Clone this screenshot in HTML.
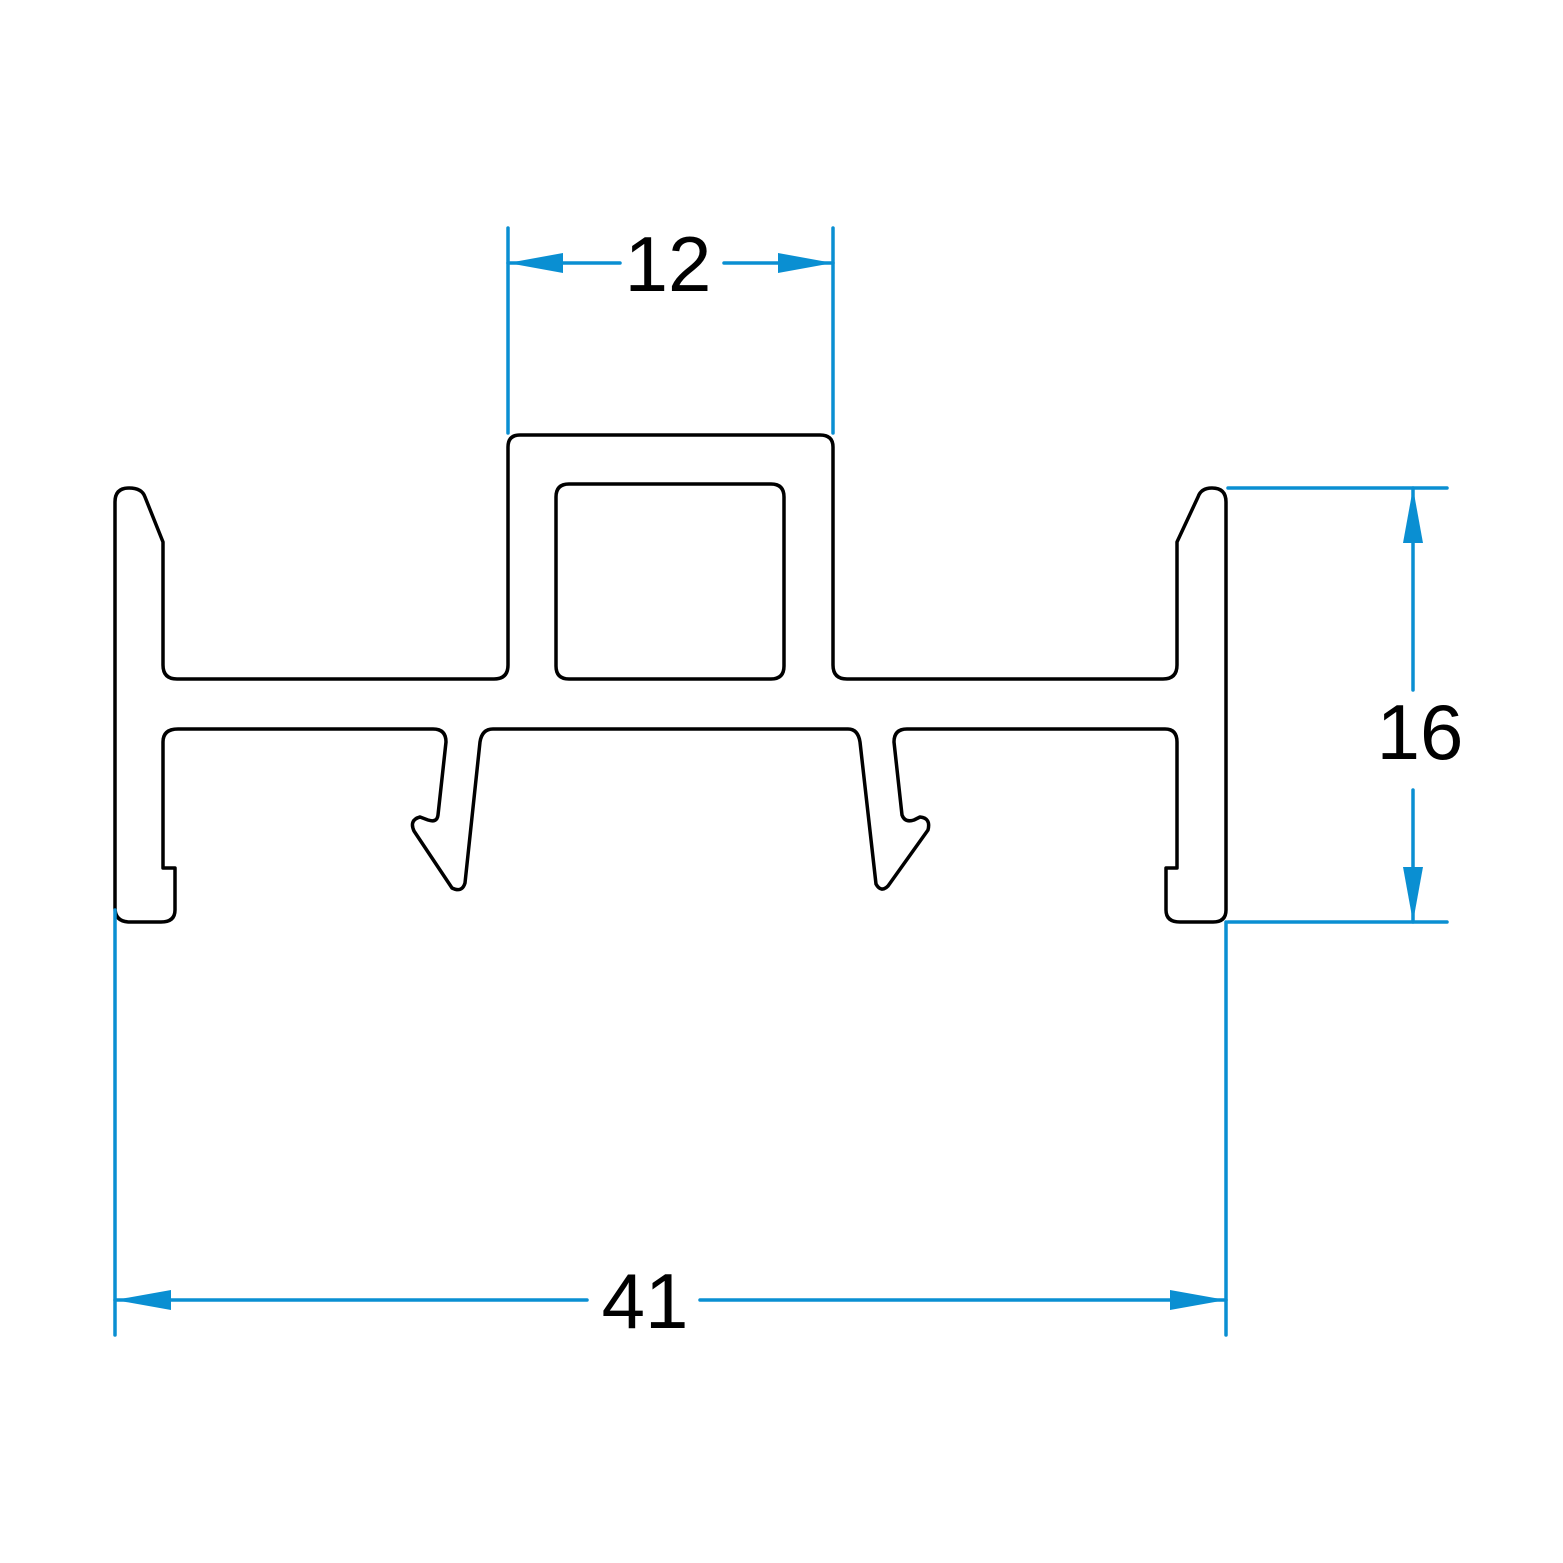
<!DOCTYPE html>
<html><head><meta charset="utf-8"><style>html,body{margin:0;padding:0;background:#fff}svg{display:block}</style></head>
<body>
<svg width="1563" height="1563" viewBox="0 0 1563 1563" xmlns="http://www.w3.org/2000/svg">
<g fill="none" stroke="#000" stroke-width="3.5" stroke-linejoin="round">
<path d="M115,502 Q115,488 129,488 Q142,488 145,497 L163,542 L163,665 Q163,679 177,679 L494,679 Q508,679 508,665 L508,447 Q508,435 520,435 L820,435 Q833,435 833,447 L833,665 Q833,679 847,679 L1163,679 Q1177,679 1177,665 L1177,542 L1198,497 Q1201,488 1212,488 Q1226,488 1226,502 L1226,910 Q1226,922 1213,922 L1180,922 Q1166,922 1166,910 L1166,868 L1177,868 L1177,742 Q1177,729 1165,729 L907,729 Q894,729 894,742 L902,815 Q905,823 914,820 L920,817 Q931,818 928,830 L888,886 Q881,893 876,884 L860,742 Q858,729 848,729 L493,729 Q482,729 480,742 L465,883 Q462,893 452,888 L414,831 Q409,820 420,817 L428,820 Q437,823 438,815 L446,742 Q446,729 433,729 L178,729 Q163,729 163,742 L163,868 L175,868 L175,910 Q175,922 161,922 L130,922 Q115,922 115,908 Z"/>
<path d="M569,484 L771,484 Q784,484 784,497 L784,666 Q784,679 771,679 L569,679 Q556,679 556,666 L556,497 Q556,484 569,484 Z"/>
</g>
<g stroke="#0a8fd2" stroke-width="3.5" fill="none" stroke-linecap="round">
<line x1="508" y1="228" x2="508" y2="433"/>
<line x1="833" y1="228" x2="833" y2="433"/>
<line x1="508" y1="263" x2="620" y2="263"/>
<line x1="724" y1="263" x2="833" y2="263"/>
<line x1="1228" y1="488" x2="1447" y2="488"/>
<line x1="1228" y1="922" x2="1447" y2="922"/>
<line x1="1413" y1="488" x2="1413" y2="690"/>
<line x1="1413" y1="790" x2="1413" y2="922"/>
<line x1="115" y1="910" x2="115" y2="1335"/>
<line x1="1226" y1="922" x2="1226" y2="1335"/>
<line x1="115" y1="1300" x2="587" y2="1300"/>
<line x1="700" y1="1300" x2="1226" y2="1300"/>
</g>
<g fill="#0a8fd2">
<polygon points="508,263 563,253 563,273"/>
<polygon points="833,263 778,253 778,273"/>
<polygon points="1413,488 1403,543 1423,543"/>
<polygon points="1413,922 1403,867 1423,867"/>
<polygon points="115,1300 171,1290 171,1310"/>
<polygon points="1226,1300 1170,1290 1170,1310"/>
</g>
<g font-family="Liberation Sans, sans-serif" font-size="78" fill="#000" text-anchor="middle">
<text x="668" y="291">12</text>
<text x="1420" y="759">16</text>
<text x="645" y="1328">41</text>
</g>
</svg>
</body></html>
